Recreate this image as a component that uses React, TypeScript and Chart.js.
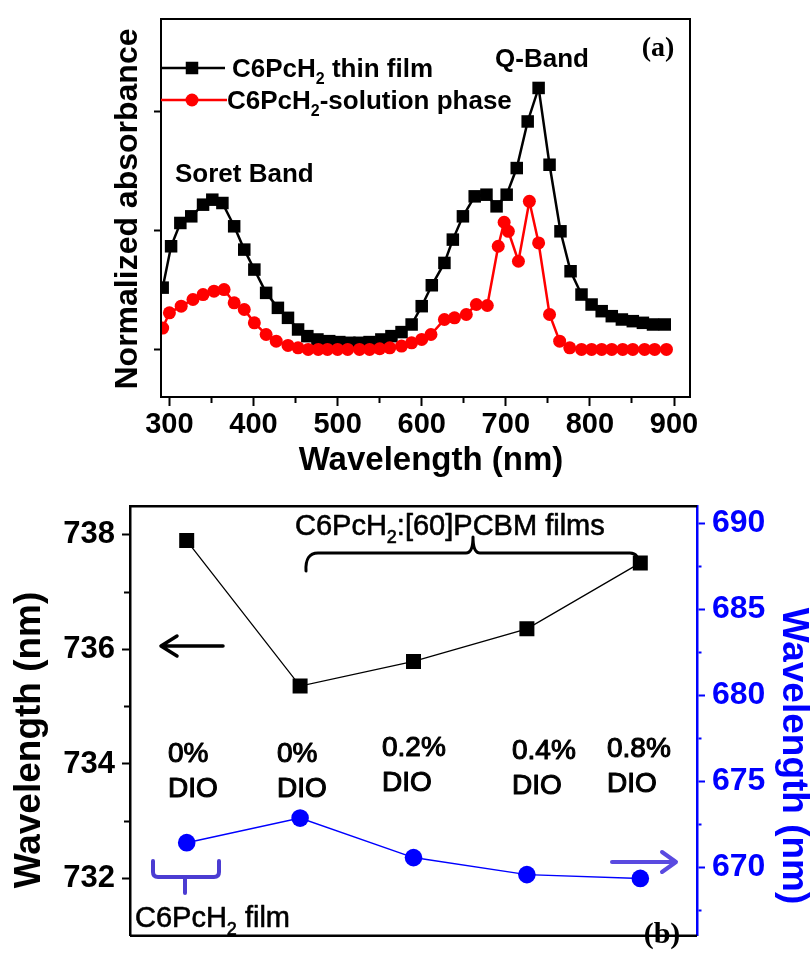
import React, { useEffect, useRef } from 'react';
import { Chart, registerables } from 'chart.js';

Chart.register(...registerables);

// ---------- Panel (a): normalized absorbance spectra ----------
const FILM_WAVELENGTH = [
  292, 302, 313, 326, 340, 351, 363, 377, 389, 401,
  415, 429, 441, 453, 464, 476, 490, 502, 514, 526,
  538, 552, 564, 576, 588, 600, 612, 627, 637, 649,
  663, 677, 689, 701, 713, 726, 739, 752, 765, 777,
  790, 802, 814, 826, 838, 851, 863, 875, 889,
];
const FILM_ABSORBANCE = [
  0.26, 0.434, 0.532, 0.56, 0.609, 0.63, 0.616, 0.518, 0.42, 0.336,
  0.238, 0.175, 0.133, 0.084, 0.056, 0.042, 0.035, 0.031, 0.028, 0.028,
  0.031, 0.042, 0.056, 0.073, 0.105, 0.182, 0.27, 0.364, 0.462, 0.56,
  0.644, 0.651, 0.602, 0.651, 0.763, 0.959, 1.1, 0.777, 0.497, 0.329,
  0.231, 0.189, 0.161, 0.14, 0.126, 0.119, 0.112, 0.105, 0.105,
];
const SOLUTION_WAVELENGTH = [
  292, 300, 314, 328, 340, 353, 365, 377, 389, 401,
  415, 427, 441, 453, 465, 477, 488, 500, 512, 526,
  538, 550, 562, 576, 588, 600, 611, 627, 639, 653,
  665, 678, 691, 698, 703, 715, 728, 739, 752, 764,
  776, 790, 802, 814, 826, 839, 851, 865, 877, 891,
];
const SOLUTION_ABSORBANCE = [
  0.09, 0.154, 0.182, 0.21, 0.231, 0.245, 0.252, 0.196, 0.168, 0.112,
  0.063, 0.035, 0.017, 0.007, 0, 0, 0, 0, 0, 0,
  0, 0.003, 0.007, 0.014, 0.028, 0.042, 0.063, 0.126, 0.133, 0.147,
  0.189, 0.185, 0.434, 0.535, 0.497, 0.371, 0.623, 0.448, 0.147, 0.035,
  0.007, 0, 0, 0, 0, 0, 0, 0, 0, 0,
];
const A_X_MAJOR = [300, 400, 500, 600, 700, 800, 900];
const A_X_MINOR = [350, 450, 550, 650, 750, 850];
const A_Y_TICKS = [0, 0.5, 1.0];

// ---------- Panel (b): peak wavelengths ----------
const B_CATEGORIES = ['C6PcH2 film, 0% DIO', '0% DIO', '0.2% DIO', '0.4% DIO', '0.8% DIO'];
const B_DIO_PERCENT = ['0%', '0%', '0.2%', '0.4%', '0.8%'];
const QBAND_PEAK_NM = [737.9, 735.36, 735.79, 736.36, 737.51];
const SECOND_PEAK_NM = [671.42, 672.85, 670.55, 669.56, 669.34];
const B_LEFT_MAJOR = [732, 734, 736, 738];
const B_LEFT_MINOR = [733, 735, 737];
const B_RIGHT_MAJOR = [670, 675, 680, 685, 690];
const B_RIGHT_MINOR = [667.5, 672.5, 677.5, 682.5, 687.5];

const SANS = '"Liberation Sans", Arial, Helvetica, sans-serif';
const SERIF = '"Liberation Serif", "Times New Roman", serif';
const BLUE = '#0000ff';
const VIOLET = '#4b3cd2';

type Seg = { t: string; sub?: boolean };

function drawRich(
  ctx: CanvasRenderingContext2D,
  segs: Seg[],
  x: number,
  y: number,
  size: number,
  weight: string,
  color: string,
  align: 'left' | 'center' = 'left',
  family: string = SANS,
  stroke = 0,
) {
  ctx.save();
  ctx.fillStyle = color;
  ctx.strokeStyle = color;
  ctx.lineWidth = stroke;
  ctx.lineJoin = 'round';
  ctx.textBaseline = 'alphabetic';
  ctx.textAlign = 'left';
  const fontFor = (sub?: boolean) =>
    `${weight} ${sub ? Math.round(size * 0.62) : size}px ${family}`;
  let total = 0;
  for (const s of segs) {
    ctx.font = fontFor(s.sub);
    total += ctx.measureText(s.t).width;
  }
  let cx = align === 'center' ? x - total / 2 : x;
  for (const s of segs) {
    ctx.font = fontFor(s.sub);
    const yy = s.sub ? y + size * 0.26 : y;
    ctx.fillText(s.t, cx, yy);
    if (stroke > 0) ctx.strokeText(s.t, cx, yy);
    cx += ctx.measureText(s.t).width;
  }
  ctx.restore();
}

function drawRotated(
  ctx: CanvasRenderingContext2D,
  text: string,
  x: number,
  y: number,
  angle: number,
  font: string,
  color: string,
) {
  ctx.save();
  ctx.translate(x, y);
  ctx.rotate(angle);
  ctx.font = font;
  ctx.fillStyle = color;
  ctx.textAlign = 'center';
  ctx.textBaseline = 'alphabetic';
  ctx.fillText(text, 0, 0);
  ctx.restore();
}

const fixedTicks = (major: number[], minor: number[]) => (axis: any) => {
  axis.ticks = [...major, ...minor].sort((a, b) => a - b).map((v) => ({ value: v }));
};

const isMinor = (list: number[], v: number) => list.some((m) => Math.abs(m - v) < 1e-6);

const tickDash = (minor: number[], pattern: number[]) => (c: any) =>
  c.tick && isMinor(minor, c.tick.value) ? pattern : [];

const FILM_SIDE = 12.5;
const SOL_R = 6.5;

const topDecor = {
  id: 'topDecor',
  afterDraw(chart: any) {
    const { ctx, chartArea: a } = chart;
    ctx.save();
    ctx.strokeStyle = '#000';
    ctx.lineWidth = 2;
    ctx.strokeRect(a.left, a.top, a.right - a.left, a.bottom - a.top);

    // legend, black squares
    ctx.beginPath();
    ctx.moveTo(a.left, 68);
    ctx.lineTo(225, 68);
    ctx.lineWidth = 2.5;
    ctx.strokeStyle = '#000';
    ctx.stroke();
    ctx.fillStyle = '#000';
    ctx.fillRect(192 - FILM_SIDE / 2, 68 - FILM_SIDE / 2, FILM_SIDE, FILM_SIDE);
    // legend, red circles
    ctx.beginPath();
    ctx.moveTo(a.left, 100);
    ctx.lineTo(227, 100);
    ctx.strokeStyle = '#ff0000';
    ctx.stroke();
    ctx.fillStyle = '#ff0000';
    ctx.beginPath();
    ctx.arc(192, 100, SOL_R, 0, Math.PI * 2);
    ctx.fill();
    ctx.restore();

    drawRich(ctx, [{ t: 'C6PcH' }, { t: '2', sub: true }, { t: ' thin film' }], 232, 77, 26, 'bold', '#000');
    drawRich(ctx, [{ t: 'C6PcH' }, { t: '2', sub: true }, { t: '-solution phase' }], 227, 109, 26, 'bold', '#000');
    drawRich(ctx, [{ t: 'Soret Band' }], 175, 182, 26, 'bold', '#000');
    drawRich(ctx, [{ t: 'Q-Band' }], 542, 67, 26, 'bold', '#000', 'center');
    drawRich(ctx, [{ t: '(a)' }], 658, 56, 28, 'bold', '#000', 'center', SERIF);

    drawRich(ctx, [{ t: 'Wavelength (nm)' }], 431, 470, 33, 'bold', '#000', 'center');
    drawRotated(ctx, 'Normalized absorbance', 137, 209, -Math.PI / 2, `bold 32px ${SANS}`, '#000');
  },
};

const OFF = 480;

const botDecor = {
  id: 'botDecor',
  afterDraw(chart: any) {
    const { ctx, chartArea: a } = chart;
    ctx.save();
    ctx.strokeStyle = '#000';
    ctx.lineWidth = 2.5;
    ctx.beginPath();
    ctx.moveTo(a.left, a.top);
    ctx.lineTo(a.right, a.top);
    ctx.moveTo(a.left, a.bottom);
    ctx.lineTo(a.right, a.bottom);
    ctx.stroke();

    ctx.translate(0, -OFF);

    // brace over the PCBM films
    ctx.lineWidth = 3;
    ctx.strokeStyle = '#000';
    ctx.lineJoin = 'round';
    ctx.lineCap = 'round';
    ctx.beginPath();
    ctx.moveTo(306, 571);
    ctx.quadraticCurveTo(305, 553, 318, 553);
    ctx.lineTo(466, 553);
    ctx.quadraticCurveTo(473, 553, 473, 537);
    ctx.quadraticCurveTo(473, 553, 480, 553);
    ctx.lineTo(630, 553);
    ctx.quadraticCurveTo(639, 553, 639, 566);
    ctx.stroke();

    // black arrow pointing left
    ctx.lineWidth = 3.5;
    ctx.beginPath();
    ctx.moveTo(223, 646);
    ctx.lineTo(162, 646);
    ctx.moveTo(177, 636);
    ctx.lineTo(161, 646);
    ctx.lineTo(177, 656);
    ctx.stroke();

    // violet brace under the film point
    ctx.strokeStyle = VIOLET;
    ctx.lineWidth = 4;
    ctx.beginPath();
    ctx.moveTo(153, 861);
    ctx.lineTo(153, 872);
    ctx.quadraticCurveTo(153, 877, 158, 877);
    ctx.lineTo(214, 877);
    ctx.quadraticCurveTo(219, 877, 219, 872);
    ctx.lineTo(219, 861);
    ctx.moveTo(185, 877);
    ctx.lineTo(185, 893);
    ctx.stroke();

    // violet arrow pointing right
    ctx.strokeStyle = '#5a4ae0';
    ctx.beginPath();
    ctx.moveTo(612, 862);
    ctx.lineTo(675, 862);
    ctx.moveTo(662, 852);
    ctx.lineTo(676, 862);
    ctx.lineTo(662, 872);
    ctx.stroke();

    drawRich(ctx, [{ t: 'C6PcH' }, { t: '2', sub: true }, { t: ':[60]PCBM films' }], 295, 535, 29, 'normal', '#000', 'left', SANS, 0.6);
    drawRich(ctx, [{ t: 'C6PcH' }, { t: '2', sub: true }, { t: ' film' }], 135, 927, 29, 'normal', '#000', 'left', SANS, 0.6);

    const labelX = [168, 277, 382, 512, 607];
    const labelY = [762, 762, 756, 759, 757];
    B_DIO_PERCENT.forEach((p, i) => {
      drawRich(ctx, [{ t: p }], labelX[i], labelY[i], 28, 'normal', '#000', 'left', SANS, 1.1);
      drawRich(ctx, [{ t: 'DIO' }], labelX[i], labelY[i] + 35, 28, 'normal', '#000', 'left', SANS, 1.1);
    });

    drawRich(ctx, [{ t: '(b)' }], 662, 943, 30, 'bold', '#000', 'center', SERIF);

    drawRotated(ctx, 'Wavelength (nm)', 40, 740, -Math.PI / 2, `bold 37px ${SANS}`, '#000');
    drawRotated(ctx, 'Wavelength (nm)', 783, 756, Math.PI / 2, `bold 37px ${SANS}`, BLUE);
    ctx.restore();
  },
};

function topConfig(): any {
  return {
    type: 'line',
    data: {
      datasets: [
        {
          label: 'C6PcH2 thin film',
          data: FILM_WAVELENGTH.map((x, i) => ({ x, y: FILM_ABSORBANCE[i] })),
          borderColor: '#000',
          backgroundColor: '#000',
          borderWidth: 2.5,
          pointStyle: 'rect',
          pointRadius: FILM_SIDE / Math.SQRT2,
          pointBorderWidth: 0,
          tension: 0,
          order: 2,
        },
        {
          label: 'C6PcH2-solution phase',
          data: SOLUTION_WAVELENGTH.map((x, i) => ({ x, y: SOLUTION_ABSORBANCE[i] })),
          borderColor: '#ff0000',
          backgroundColor: '#ff0000',
          borderWidth: 2.5,
          pointStyle: 'circle',
          pointRadius: SOL_R,
          pointBorderWidth: 0,
          tension: 0,
          order: 1,
        },
      ],
    },
    options: {
      responsive: false,
      animation: false,
      devicePixelRatio: 1,
      layout: { padding: { top: 19, right: 122, bottom: 0, left: 0 } },
      plugins: { legend: { display: false }, tooltip: { enabled: false }, title: { display: false } },
      scales: {
        x: {
          type: 'linear',
          min: 290,
          max: 919,
          afterBuildTicks: fixedTicks(A_X_MAJOR, A_X_MINOR),
          afterFit: (s: any) => {
            s.height = 83;
          },
          ticks: {
            autoSkip: false,
            maxRotation: 0,
            padding: 2,
            color: '#000',
            font: { family: SANS, size: 29, weight: 'bold' },
            callback: (v: number) => (isMinor(A_X_MINOR, v) ? '' : String(v)),
          },
          grid: {
            drawOnChartArea: false,
            tickLength: 9,
            tickWidth: 2,
            tickColor: '#000',
            tickBorderDash: tickDash(A_X_MINOR, [5, 200]),
          },
          border: { display: true, color: '#000', width: 2 },
        },
        y: {
          min: -0.2,
          max: 1.39,
          afterBuildTicks: fixedTicks(A_Y_TICKS, []),
          afterFit: (s: any) => {
            s.width = 161;
          },
          ticks: { callback: () => '' },
          grid: { drawOnChartArea: false, tickLength: 7, tickWidth: 2, tickColor: '#000' },
          border: { display: true, color: '#000', width: 2 },
        },
      },
    },
    plugins: [topDecor],
  };
}

function botConfig(): any {
  return {
    type: 'line',
    data: {
      labels: B_CATEGORIES,
      datasets: [
        {
          label: 'Q-band peak',
          data: QBAND_PEAK_NM,
          yAxisID: 'yL',
          borderColor: '#000',
          backgroundColor: '#000',
          borderWidth: 1.3,
          pointStyle: 'rect',
          pointRadius: 10.6,
          pointBorderWidth: 0,
          tension: 0,
        },
        {
          label: 'Second peak',
          data: SECOND_PEAK_NM,
          yAxisID: 'yR',
          borderColor: BLUE,
          backgroundColor: BLUE,
          borderWidth: 1.5,
          pointStyle: 'circle',
          pointRadius: 8.8,
          pointBorderWidth: 0,
          tension: 0,
        },
      ],
    },
    options: {
      responsive: false,
      animation: false,
      devicePixelRatio: 1,
      layout: { padding: { top: 22, right: 0, bottom: 4, left: 0 } },
      plugins: { legend: { display: false }, tooltip: { enabled: false }, title: { display: false } },
      scales: {
        x: { type: 'category', offset: true, display: false },
        yL: {
          position: 'left',
          min: 731,
          max: 738.5,
          afterBuildTicks: fixedTicks(B_LEFT_MAJOR, B_LEFT_MINOR),
          afterFit: (s: any) => {
            s.width = 130;
          },
          ticks: {
            padding: 7,
            color: '#000',
            font: { family: SANS, size: 31, weight: 'bold' },
            callback: (v: number) => (isMinor(B_LEFT_MINOR, v) ? '' : String(v)),
          },
          grid: {
            drawOnChartArea: false,
            tickLength: 8,
            tickWidth: 2,
            tickColor: '#000',
            tickBorderDash: tickDash(B_LEFT_MINOR, [0, 2, 5, 200]),
          },
          border: { display: true, color: '#000', width: 2.5 },
        },
        yR: {
          position: 'right',
          min: 666,
          max: 691,
          afterBuildTicks: fixedTicks(B_RIGHT_MAJOR, B_RIGHT_MINOR),
          afterFit: (s: any) => {
            s.width = 115;
          },
          ticks: {
            padding: 7,
            color: BLUE,
            font: { family: SANS, size: 32, weight: 'bold' },
            callback: (v: number) => (isMinor(B_RIGHT_MINOR, v) ? '' : String(v)),
          },
          grid: {
            drawOnChartArea: false,
            tickLength: 8,
            tickWidth: 2,
            tickColor: BLUE,
            tickBorderDash: tickDash(B_RIGHT_MINOR, [3, 200]),
          },
          border: { display: true, color: BLUE, width: 2.5 },
        },
      },
    },
    plugins: [botDecor],
  };
}

export default function App() {
  const topRef = useRef<HTMLCanvasElement>(null);
  const botRef = useRef<HTMLCanvasElement>(null);

  useEffect(() => {
    const top = new Chart(topRef.current as HTMLCanvasElement, topConfig());
    const bot = new Chart(botRef.current as HTMLCanvasElement, botConfig());
    return () => {
      top.destroy();
      bot.destroy();
    };
  }, []);

  return (
    <div style={{ position: 'absolute', left: 0, top: 0, width: 812, height: 962, background: '#fff' }}>
      <canvas
        ref={topRef}
        width={812}
        height={480}
        style={{ position: 'absolute', left: 0, top: 0, width: 812, height: 480, display: 'block' }}
      />
      <canvas
        ref={botRef}
        width={812}
        height={482}
        style={{ position: 'absolute', left: 0, top: 480, width: 812, height: 482, display: 'block' }}
      />
    </div>
  );
}
